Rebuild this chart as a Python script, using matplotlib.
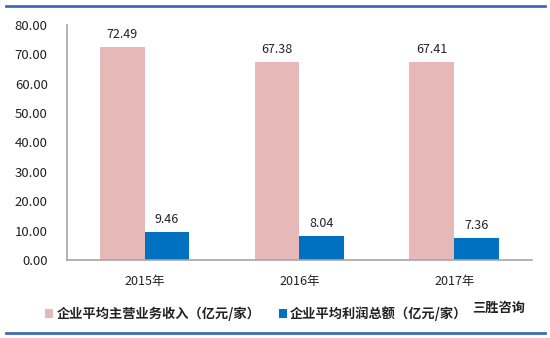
import matplotlib
matplotlib.use('Agg')
import matplotlib.pyplot as plt
from matplotlib.lines import Line2D
import numpy as np

plt.rcParams['font.family'] = ['Noto Sans CJK SC', 'DejaVu Sans']

# data
years = ['2015年', '2016年', '2017年']
revenue = [72.49, 67.38, 67.41]
profit = [9.46, 8.04, 7.36]
yticks = [0, 10, 20, 30, 40, 50, 60, 70, 80]

pink = '#E6B9B8'
blue = '#0070C0'

fig = plt.figure(figsize=(5.5, 3.38), dpi=100)
ax = fig.add_axes([0.122, 0.231, 0.845, 0.695])

x = np.arange(len(years))
w = 0.29
b1 = ax.bar(x - w / 2, revenue, w, color=pink, label='企业平均主营业务收入（亿元/家）')
b2 = ax.bar(x + w / 2, profit, w, color=blue, label='企业平均利润总额（亿元/家）')

for bars, vals in ((b1, revenue), (b2, profit)):
    for r, v in zip(bars, vals):
        ax.text(r.get_x() + r.get_width() / 2, v + 2.2, '%.2f' % v,
                ha='center', va='bottom', fontsize=9, color='#222222')

ax.set_xlim(-0.5, 2.5)
ax.set_ylim(0, 80)
ax.set_yticks(yticks)
ax.set_yticklabels(['%.2f' % t for t in yticks], fontsize=9.5, color='#222222')
ax.set_xticks(x)
ax.set_xticklabels(years, fontsize=9, color='#222222')
ax.tick_params(axis='y', length=0, pad=14)
ax.tick_params(axis='x', length=0, pad=11)
for s in ('top', 'right'):
    ax.spines[s].set_visible(False)
for s in ('left', 'bottom'):
    ax.spines[s].set_color('#A6A6A6')
    ax.spines[s].set_linewidth(1.2)

leg = fig.legend(loc='lower left', bbox_to_anchor=(0.082, 0.05), ncol=2,
                 frameon=False, fontsize=9.5, handlelength=0.6, handleheight=0.6,
                 handletextpad=0.25, columnspacing=1.4, borderpad=0, borderaxespad=0)
for t in leg.get_texts():
    t.set_fontweight('bold')
    t.set_color('#222222')
fig.text(0.858, 0.089, '三胜咨询', fontsize=9.5, fontweight='bold',
         color='#222222', ha='left', va='center')

# frame lines top and bottom
fig.add_artist(Line2D([0.01, 0.99], [0.982, 0.982], color='#3E6DB5', lw=2))
fig.add_artist(Line2D([0.01, 0.99], [0.015, 0.015], color='#3E6DB5', lw=2))

fig.savefig('out.png', dpi=100)
